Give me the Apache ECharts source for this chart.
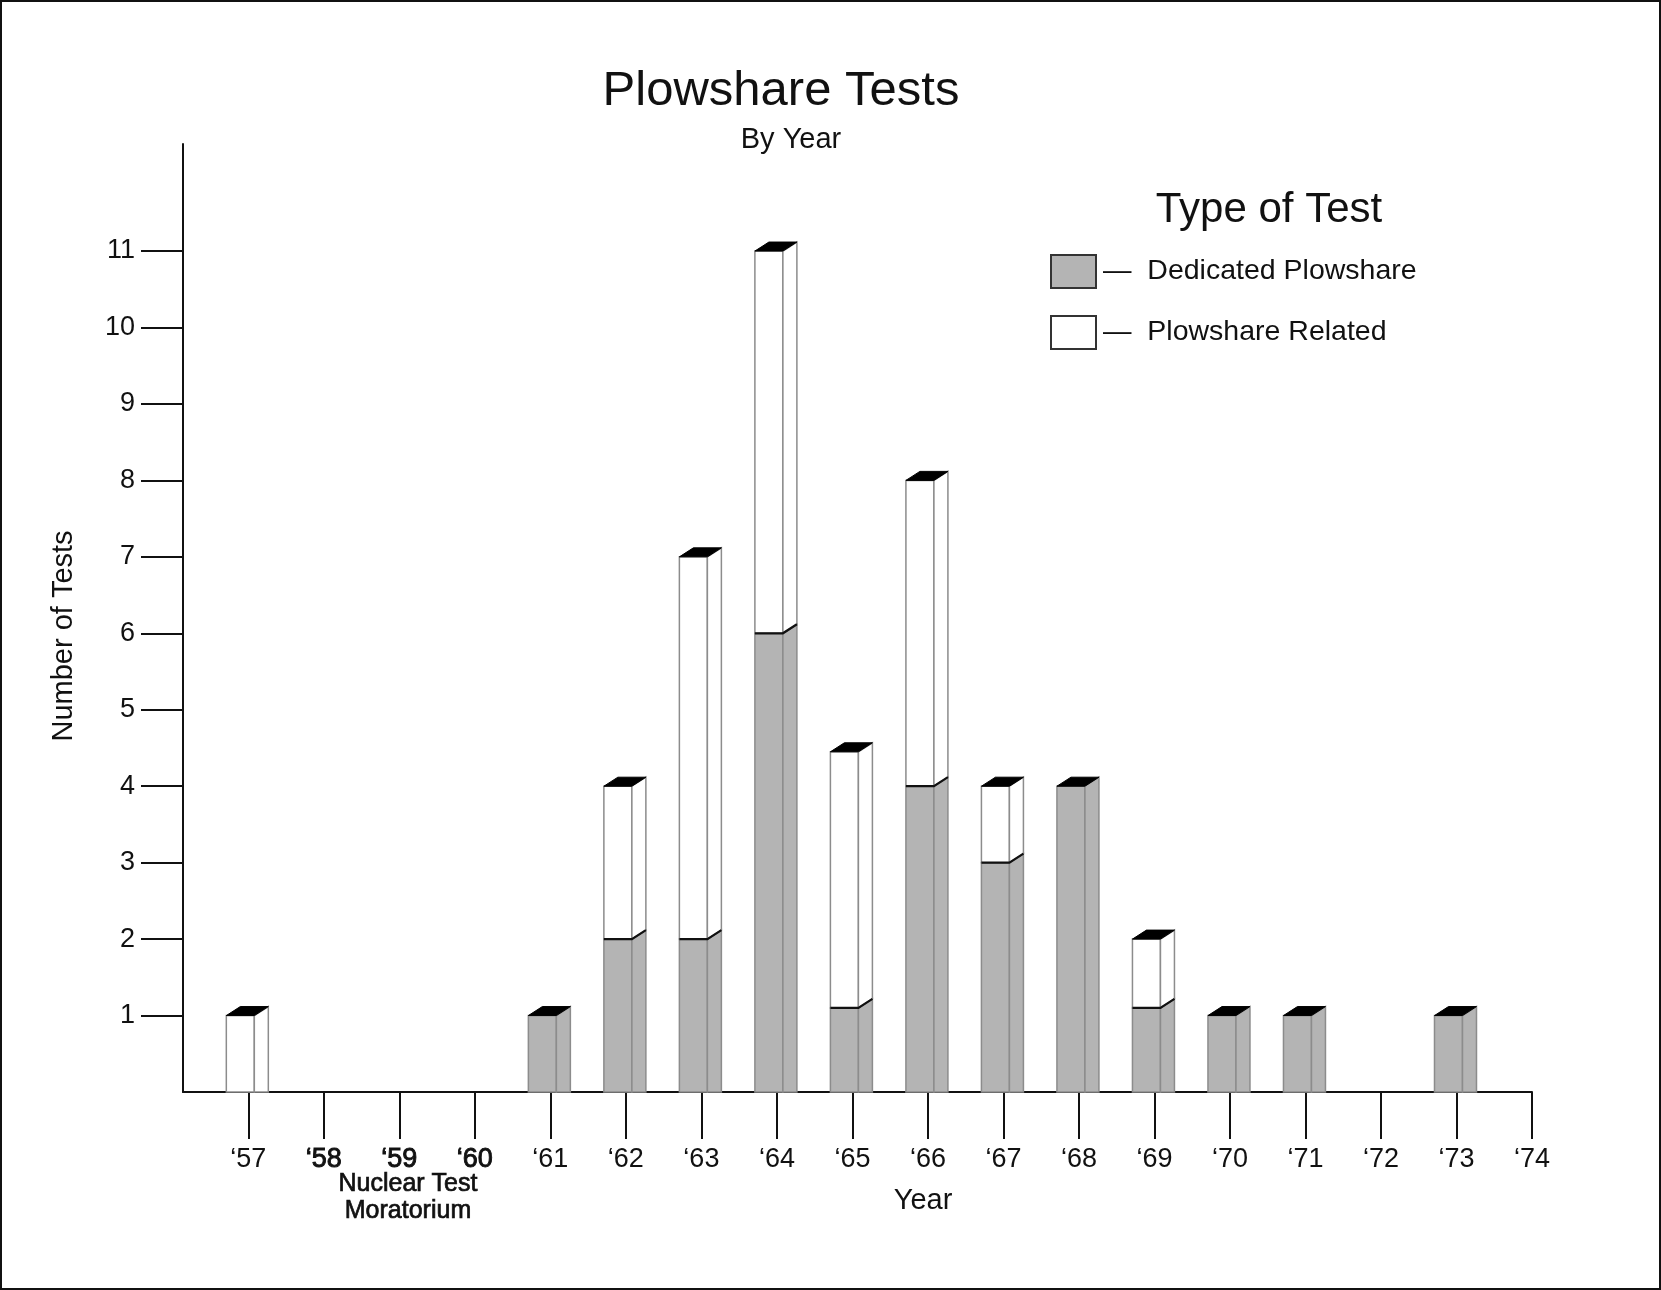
<!DOCTYPE html>
<html>
<head>
<meta charset="utf-8">
<script src="https://cdn.jsdelivr.net/npm/echarts@6/dist/echarts.min.js"></script>
<style>
html,body{margin:0;padding:0;background:#fff;}
#chart{width:1661px;height:1290px;}
</style>
</head>
<body>
<div id="chart"></div>
<script>
// ---- data ----
const years = [1957,1958,1959,1960,1961,1962,1963,1964,1965,1966,1967,1968,1969,1970,1971,1972,1973,1974];
const dedicated = [0,0,0,0,1,2,2,6,1.1,4,3,4,1.1,1,1,0,1,0];
const related   = [1,0,0,0,0,2,5,5,3.35,4,1,0,0.9,0,0,0,0,0];
const yTicks = [1,2,3,4,5,6,7,8,9,10,11];
const moratoriumYears = [1958,1959,1960];

const FONT = '"Liberation Sans", Arial, Helvetica, sans-serif';
const GRAY = '#b4b4b4';

const dedData = [], relData = [];
years.forEach((y, i) => {
  const d = dedicated[i], r = related[i];
  if (d > 0) dedData.push([y, 0, d, r > 0 ? 0 : 1]);
  if (r > 0) relData.push([y, d, d + r, 1]);
});

function makeRender(fill) {
  return function (params, api) {
    const x = api.value(0), lo = api.value(1), hi = api.value(2), isTop = api.value(3);
    const pLo = api.coord([x, lo]);
    const pHi = api.coord([x, hi]);
    const fw = 28, sw = 14, dh = 9;
    const xl = pHi[0] - 22, xm = xl + fw, xr = xm + sw;
    const yb = pLo[1], yt = pHi[1];
    const edge = '#8c8c8c';
    const children = [
      { type: 'rect', shape: { x: xl, y: yt, width: fw, height: yb - yt },
        style: { fill: fill, stroke: edge, lineWidth: 1.5 } },
      { type: 'polygon', shape: { points: [[xm, yt], [xr, yt - dh], [xr, lo > 0 ? yb - dh : yb], [xm, yb]] },
        style: { fill: fill, stroke: edge, lineWidth: 1.5 } }
    ];
    if (lo > 0) {
      children.push({ type: 'polyline', shape: { points: [[xl, yb], [xm, yb], [xr, yb - dh]] },
        style: { fill: null, stroke: '#111', lineWidth: 2.2 } });
    }
    if (isTop) {
      children.push({ type: 'polygon', shape: { points: [[xl, yt], [xm, yt], [xr, yt - dh], [xl + sw, yt - dh]] },
        style: { fill: '#000', stroke: '#000', lineWidth: 1 } });
    }
    return { type: 'group', children: children };
  };
}

const chart = echarts.init(document.getElementById('chart'));
chart.setOption({
  backgroundColor: '#fff',
  animation: false,
  textStyle: { fontFamily: FONT },
  grid: { left: 183, right: 129, top: 144, bottom: 198 },
  legend: {
    orient: 'vertical', left: 1045, top: 249, itemWidth: 45, itemHeight: 33, itemGap: 26,
    icon: 'rect',
    selectedMode: false,
    formatter: n => '—  ' + n,
    textStyle: { fontSize: 28.5, lineHeight: 33, color: '#111', fontFamily: FONT, padding: [0, 0, 0, 2] },
    data: [
      { name: 'Dedicated Plowshare', itemStyle: { color: GRAY, borderColor: '#333', borderWidth: 2 } },
      { name: 'Plowshare Related', itemStyle: { color: '#fff', borderColor: '#333', borderWidth: 2 } }
    ]
  },
  xAxis: {
    type: 'value', min: 1956.135, max: 1974,
    splitLine: { show: false },
    axisLine: { show: true, onZero: false, lineStyle: { color: '#111', width: 2 } },
    axisTick: { show: true, length: 47, customValues: years, lineStyle: { color: '#111', width: 2 } },
    axisLabel: {
      customValues: years, margin: 54, fontSize: 27, color: '#111', fontFamily: FONT,
      formatter: v => {
        const t = '\u2018' + String(v).slice(2);
        return moratoriumYears.indexOf(v) >= 0 ? '{b|' + t + '}' : t;
      },
      rich: { b: { fontSize: 27, color: '#111', fontFamily: FONT, textBorderColor: '#111', textBorderWidth: 0.9 } }
    }
  },
  yAxis: {
    type: 'value', min: 0, max: 12.4, interval: 1,
    splitLine: { show: false },
    axisLine: { show: true, lineStyle: { color: '#111', width: 2 } },
    axisTick: { show: true, length: 42, customValues: yTicks, lineStyle: { color: '#111', width: 2 } },
    axisLabel: { customValues: yTicks, margin: 48, fontSize: 27, color: '#111', fontFamily: FONT }
  },
  series: [
    { name: 'Dedicated Plowshare', type: 'custom', renderItem: makeRender(GRAY),
      itemStyle: { color: GRAY }, encode: { x: 0, y: [1, 2] }, data: dedData, z: 2 },
    { name: 'Plowshare Related', type: 'custom', renderItem: makeRender('#fff'),
      itemStyle: { color: '#fff' }, encode: { x: 0, y: [1, 2] }, data: relData, z: 3 }
  ],
  graphic: [
    { type: 'rect', shape: { x: 1, y: 1, width: 1659, height: 1288 }, style: { fill: null, stroke: '#111', lineWidth: 2 }, silent: true },
    { type: 'text', style: { x: 781, y: 91, text: 'Plowshare Tests', font: '49px ' + FONT, fill: '#111', textAlign: 'center', textVerticalAlign: 'middle' } },
    { type: 'text', style: { x: 791, y: 140, text: 'By Year', font: '29px ' + FONT, fill: '#111', textAlign: 'center', textVerticalAlign: 'middle' } },
    { type: 'text', style: { x: 1269, y: 210, text: 'Type of Test', font: '42px ' + FONT, fill: '#111', textAlign: 'center', textVerticalAlign: 'middle' } },
    { type: 'text', style: { x: 923, y: 1201, text: 'Year', font: '29px ' + FONT, fill: '#111', textAlign: 'center', textVerticalAlign: 'middle' } },
    { type: 'text', x: 64, y: 636, rotation: Math.PI / 2, style: { x: 0, y: 0, text: 'Number of Tests', font: '29px ' + FONT, fill: '#111', textAlign: 'center', textVerticalAlign: 'middle' } },
    { type: 'text', style: { x: 408, y: 1198, text: 'Nuclear Test\nMoratorium', font: '25px ' + FONT, lineHeight: 27, fill: '#111', stroke: '#111', lineWidth: 0.7, textAlign: 'center', textVerticalAlign: 'middle' } }
  ]
});
</script>
</body>
</html>
